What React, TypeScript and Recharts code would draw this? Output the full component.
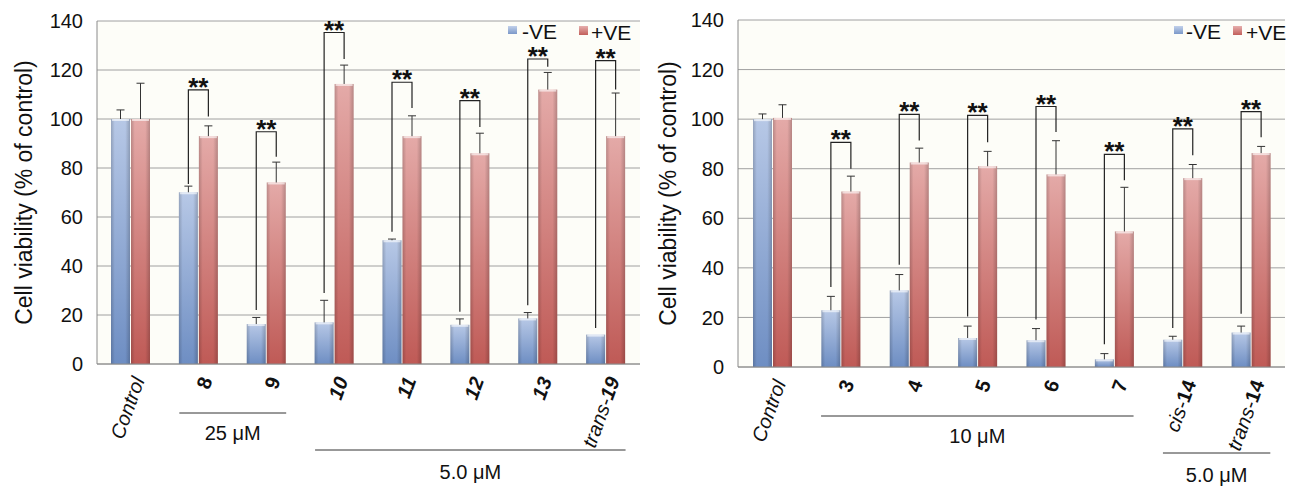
import React from "react";
import { BarChart, Bar, XAxis, YAxis, CartesianGrid } from "recharts";

const FONT = '"Liberation Sans", Arial, Helvetica, sans-serif';
const BAR = 19;
const GAP = 1;

// left panel (25 µM / 5.0 µM)
const leftCategories = ["Control", "8", "9", "10", "11", "12", "13", "trans-19"];
const leftNeg = [100, 70.1, 16.3, 17, 50.5, 16, 18.6, 12];
const leftNegErr = [3.7, 2.5, 2.7, 9, 0.5, 2.4, 2.4, 0];
const leftPos = [100, 93, 74.1, 114.3, 93, 86, 112, 93];
const leftPosErr = [14.6, 4.2, 8.3, 7.7, 8.3, 8.2, 7, 17.6];
// ** brackets: top, end of -VE leg, end of +VE leg
const leftSigTop = [null, 111.9, 94.8, 135.3, 115, 107.5, 124.5, 123.8];
const leftSigLeft = [null, 73.5, 22, 29, 54, 21.3, 24, 14.7];
const leftSigRight = [null, 101, 84.6, 124.5, 104.5, 96.7, 121.3, 112];
const leftItalic = [true, false, false, true, true, true, true, true];
const leftGroups = [
  { label: "25 μM", from: 1, to: 2, row: 0 },
  { label: "5.0 μM", from: 3, to: 7, row: 1 },
];

// right panel (10 µM / 5.0 µM)
const rightCategories = ["Control", "3", "4", "5", "6", "7", "cis-14", "trans-14"];
const rightNeg = [100, 22.9, 30.9, 11.7, 10.8, 3.1, 11, 13.9];
const rightNegErr = [2.1, 5.6, 6.4, 4.8, 4.7, 2.3, 1.4, 2.6];
const rightPos = [100.5, 70.8, 82.5, 81, 77.7, 54.7, 76.2, 86.3];
const rightPosErr = [5.3, 6.2, 5.8, 6, 13.6, 17.8, 5.5, 2.7];
const rightSigTop = [null, 90.6, 101.9, 101.5, 105.1, 85.8, 96.1, 103];
const rightSigLeft = [null, 32.3, 41.3, 20.4, 19.2, 9.2, 15.7, 21.5];
const rightSigRight = [null, 80, 91.4, 90.7, 94.8, 75.3, 85.4, 92.7];
const rightItalic = [true, false, false, false, false, false, false, false];
const rightGroups = [
  { label: "10 μM", from: 1, to: 5, row: 0 },
  { label: "5.0 μM", from: 6, to: 7, row: 1 },
];

const yTicks = [0, 20, 40, 60, 80, 100, 120, 140];

const buildRows = (
  cats: string[],
  neg: number[],
  negErr: number[],
  pos: number[],
  posErr: number[],
  sigTop: (number | null)[],
  sigLeft: (number | null)[],
  sigRight: (number | null)[],
  italic: boolean[],
) =>
  cats.map((name, i) => ({
    name,
    neg: neg[i],
    negErr: negErr[i],
    pos: pos[i],
    posErr: posErr[i],
    sigTop: sigTop[i],
    sigLeft: sigLeft[i],
    sigRight: sigRight[i],
    italic: italic[i],
  }));

const leftData = buildRows(leftCategories, leftNeg, leftNegErr, leftPos, leftPosErr, leftSigTop, leftSigLeft, leftSigRight, leftItalic);
const rightData = buildRows(rightCategories, rightNeg, rightNegErr, rightPos, rightPosErr, rightSigTop, rightSigLeft, rightSigRight, rightItalic);

function BarShape(props: any) {
  const { x, y, width, height, payload, kind, id } = props;
  if (!height || height <= 0) return null;
  const value = kind === "neg" ? payload.neg : payload.pos;
  const err = kind === "neg" ? payload.negErr : payload.posErr;
  const unit = height / value;
  const base = y + height;
  const cx = x + width / 2;
  const errTop = y - err * unit;

  let bracket = null;
  if (kind === "pos" && payload.sigTop != null) {
    const lx = x - GAP - width / 2;
    const rx = cx;
    const top = base - payload.sigTop * unit;
    const ly = base - payload.sigLeft * unit;
    const ry = base - payload.sigRight * unit;
    bracket = (
      <g>
        <path d={`M${lx},${ly}V${top}H${rx}V${ry}`} fill="none" stroke="#222" strokeWidth={1.2} />
        <text
          x={(lx + rx) / 2}
          y={top + 6}
          textAnchor="middle"
          fontSize={26}
          fontWeight="bold"
          fontFamily={FONT}
          fill="#111"
        >
          **
        </text>
      </g>
    );
  }

  return (
    <g>
      <rect x={x} y={y} width={width} height={height} fill={`url(#${id}-${kind})`} />
      <rect x={x} y={y} width={width} height={height} fill={`url(#${id}-edge)`} />
      <rect x={x + 1} y={y} width={width - 2} height={2} fill="#fff" opacity={0.6} />
      {err > 0 && (
        <g stroke="#333" strokeWidth={1}>
          <line x1={cx} x2={cx} y1={y} y2={errTop} />
          <line x1={cx - 4} x2={cx + 4} y1={errTop} y2={errTop} />
        </g>
      )}
      {bracket}
    </g>
  );
}

function CategoryTick(props: any) {
  const { x, y, payload, data, groups, band } = props;
  const index = props.index ?? payload.index;
  const value: string = payload.value;
  const row = data[index];
  const ax = x + 14;
  const ay = y + 16;
  const m = /^(cis-|trans-)?(\d+)$/.exec(value);
  let content: any = value;
  if (m) {
    content = (
      <>
        {m[1] && <tspan fontStyle="italic">{m[1]}</tspan>}
        <tspan fontWeight="bold" fontStyle={row && row.italic ? "italic" : "normal"}>
          {m[2]}
        </tspan>
      </>
    );
  }
  return (
    <g>
      <text
        x={ax}
        y={ay}
        transform={`rotate(-70, ${ax}, ${ay})`}
        textAnchor="end"
        fontSize={20}
        fontFamily={FONT}
        fontStyle={!m && row && row.italic ? "italic" : "normal"}
        fill="#111"
      >
        {content}
      </text>
      {groups
        .filter((g: any) => g.from === index)
        .map((g: any) => {
          const x1 = x - GAP / 2 - BAR;
          const x2 = x + (g.to - g.from) * band + GAP / 2 + BAR;
          const ly = y + (g.row === 0 ? 49 : 86);
          const ty = y + (g.row === 0 ? 69 : 108) + 7;
          return (
            <g key={g.label}>
              <line x1={x1} x2={x2} y1={ly} y2={ly} stroke="#333" strokeWidth={1} />
              <text x={(x1 + x2) / 2} y={ty} textAnchor="middle" fontSize={20} fontFamily={FONT} fill="#111">
                {g.label}
              </text>
            </g>
          );
        })}
    </g>
  );
}

function Panel(props: any) {
  const { id, data, groups, width, height, margin, yAxisWidth, xAxisHeight, labelOffset, legend } = props;
  const plotW = width - margin.left - margin.right - yAxisWidth;
  const band = plotW / data.length;
  return (
    <div style={{ position: "relative", width, height, flexShrink: 0 }}>
      <BarChart width={width} height={height} data={data} margin={margin} barSize={BAR} barGap={GAP}>
        <defs>
          <linearGradient id={`${id}-neg`} x1="0" y1="0" x2="0" y2="1">
            <stop offset="0%" stopColor="#b7c8e6" />
            <stop offset="100%" stopColor="#6e8ec3" />
          </linearGradient>
          <linearGradient id={`${id}-pos`} x1="0" y1="0" x2="0" y2="1">
            <stop offset="0%" stopColor="#e4aaa8" />
            <stop offset="100%" stopColor="#bf5a56" />
          </linearGradient>
          <linearGradient id={`${id}-edge`} x1="0" y1="0" x2="1" y2="0">
            <stop offset="0%" stopColor="#000" stopOpacity={0.18} />
            <stop offset="20%" stopColor="#000" stopOpacity={0} />
            <stop offset="75%" stopColor="#000" stopOpacity={0} />
            <stop offset="100%" stopColor="#000" stopOpacity={0.2} />
          </linearGradient>
        </defs>
        <CartesianGrid vertical={false} stroke="#a0a0a0" fill="#fdfdf8" />
        <XAxis
          dataKey="name"
          interval={0}
          tickLine={false}
          tickSize={0}
          tickMargin={0}
          height={xAxisHeight}
          axisLine={{ stroke: "#8a8a8a" }}
          tick={(p: any) => <CategoryTick {...p} data={data} groups={groups} band={band} />}
        />
        <YAxis
          domain={[0, 140]}
          ticks={yTicks}
          width={yAxisWidth}
          tickLine={false}
          tickMargin={8}
          axisLine={{ stroke: "#8a8a8a" }}
          tick={{ fontSize: 20, fill: "#111", fontFamily: FONT }}
          label={{
            value: "Cell viability (% of control)",
            angle: -90,
            position: "insideLeft",
            offset: labelOffset,
            style: { textAnchor: "middle", fontSize: 23, fill: "#111", fontFamily: FONT },
          }}
        />
        <Bar dataKey="neg" name="-VE" isAnimationActive={false} shape={(p: any) => <BarShape {...p} kind="neg" id={id} />} />
        <Bar dataKey="pos" name="+VE" isAnimationActive={false} shape={(p: any) => <BarShape {...p} kind="pos" id={id} />} />
      </BarChart>
      <div style={{ position: "absolute", left: 0, top: 0, fontFamily: FONT, fontSize: 21, lineHeight: "21px", color: "#111" }}>
        <span style={{ position: "absolute", left: legend.negSq, top: 18, width: 9, height: 8, background: "linear-gradient(#c2d1ea, #7b98c9)" }} />
        <span style={{ position: "absolute", left: legend.negText, top: 13, whiteSpace: "nowrap" }}>-VE</span>
        <span style={{ position: "absolute", left: legend.posSq, top: 18, width: 9, height: 9, background: "linear-gradient(#e6afad, #c25f5b)" }} />
        <span style={{ position: "absolute", left: legend.posText, top: 14, whiteSpace: "nowrap" }}>+VE</span>
      </div>
    </div>
  );
}

export default function App() {
  return (
    <div style={{ display: "flex", width: 1283, height: 479, padding: "8px 0 0 8px", background: "#fff" }}>
      <style>{"html, body { margin: 0; overflow: hidden; }"}</style>
      <Panel
        id="l"
        data={leftData}
        groups={leftGroups}
        width={640}
        height={479}
        margin={{ top: 13, right: 8, bottom: 0, left: 0 }}
        yAxisWidth={89}
        xAxisHeight={123}
        labelOffset={16}
        legend={{ negSq: 500, negText: 514, posSq: 571, posText: 583 }}
      />
      <Panel
        id="r"
        data={rightData}
        groups={rightGroups}
        width={643}
        height={479}
        margin={{ top: 12, right: 6, bottom: 0, left: 0 }}
        yAxisWidth={90}
        xAxisHeight={120}
        labelOffset={20}
        legend={{ negSq: 526, negText: 538, posSq: 585, posText: 598 }}
      />
    </div>
  );
}
